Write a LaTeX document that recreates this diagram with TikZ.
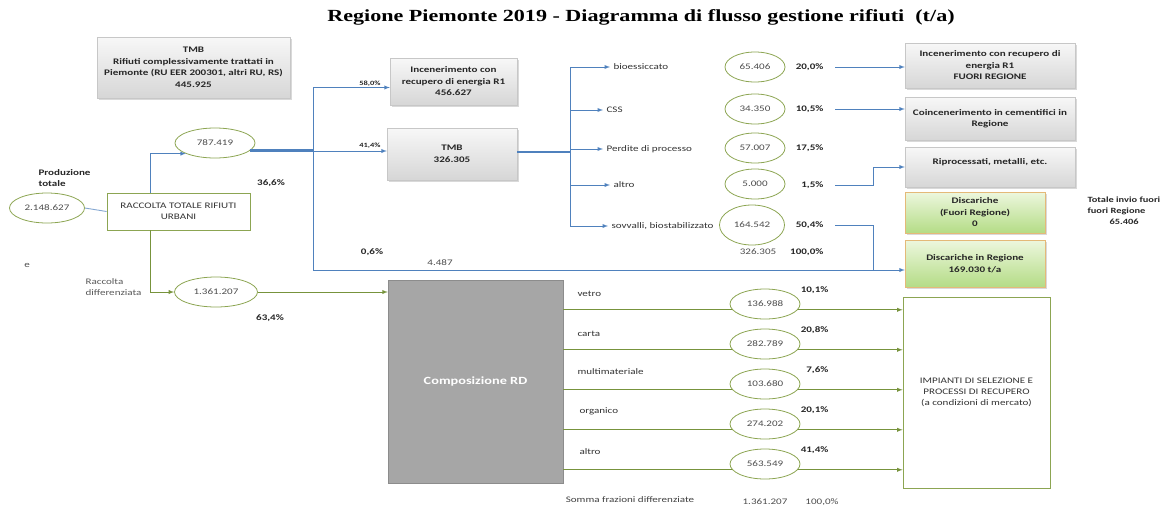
\documentclass[tikz,border=0pt]{standalone}
\usepackage{fontspec}
\setmainfont{Carlito}[FakeStretch=1.3]
\newfontfamily\titelfont{Liberation Serif}[FakeStretch=1.3]
\usetikzlibrary{positioning,shapes.geometric,shadows}
\definecolor{blaulinie}{HTML}{4F81BD}
\definecolor{gruenlinie}{HTML}{77933C}
\definecolor{gruenrand}{HTML}{8CA552}
\definecolor{rdgrau}{HTML}{A6A6A6}
\definecolor{gruenoben}{HTML}{EDF7DE}
\definecolor{gruenunten}{HTML}{B4DC86}
\definecolor{deponierand}{HTML}{E4B978}

\begin{document}
\begin{tikzpicture}
	[
	x=1pt, y=-1pt, font=\fontsize{8.5}{11}\selectfont, >=latex,
	%Voreinstellungen
	kasten/.style={draw=black!22, top color=black!3, bottom color=black!16, drop shadow={opacity=0.3, shadow xshift=1.5pt, shadow yshift=-1.5pt}, align=center, font=\fontsize{8.5}{11.5}\selectfont\bfseries, text=black!85},
	deponie/.style={kasten, draw=deponierand, top color=gruenoben, bottom color=gruenunten},
	wert/.style={ellipse, draw=gruenrand, line width=0.8pt, inner sep=0pt, minimum height=30pt, minimum width=60pt, text=black!70},
	prozent/.style={font=\fontsize{8.5}{11}\selectfont\bfseries, text=black!85},
	etikett/.style={anchor=west, text=black!80},
	fluss/.style={blaulinie, line width=0.9pt},
	rd/.style={gruenlinie, line width=0.9pt}
	]
	\useasboundingbox (0,0) rectangle (1162,507);
	
	%Titel
	\node (titel) at (641,17) {\titelfont\fontsize{17}{19}\selectfont\bfseries Regione Piemonte 2019 - Diagramma di flusso gestione rifiuti\ \ (t/a)};
	
	%TMB Piemonte
	\node[kasten, minimum width=193pt, minimum height=61pt] (tmbpie) at (193.5,67.5) {TMB\\Rifiuti complessivamente trattati in\\Piemonte (RU EER 200301, altri RU, RS)\\445.925};
	
	%Produzione und Raccolta
	\node[prozent, align=left, anchor=west] (prodtext) at (35,178) {Produzione\\totale};
	\node[wert, minimum width=75pt] (prod) at (47,208) {2.148.627};
	\node[draw=gruenrand, line width=0.8pt, minimum width=143pt, minimum height=37pt, align=center, text=black!80] (raccolta) at (178.5,211.5) {RACCOLTA TOTALE RIFIUTI\\URBANI};
	\node[wert, minimum width=80pt] (indiff) at (215,143) {787.419};
	\node[wert, minimum width=83pt] (diff) at (216,292) {1.361.207};
	\node[text=black!70] (rest) at (27,265) {e};
	\node[etikett, align=left, text=black!65] (rdtext) at (82,287) {Raccolta\\differenziata};
	\node[prozent] (p366) at (271,183) {36,6\%};
	\node[prozent] (p634) at (270,318) {63,4\%};
	
	\draw[blaulinie!70, line width=0.9pt] (prod.east) -- (raccolta.west);
	\draw[fluss,->] ([xshift=-28pt]raccolta.north) |- (indiff.200);
	\draw[rd,->] ([xshift=-28pt]raccolta.south) |- (diff.west);
	
	%Verteilung indifferenziato
	\coordinate (knoten) at (313,151);
	\coordinate (unten) at (313,270);
	\coordinate (sammel) at (873,270);
	\node[kasten, minimum width=127pt, minimum height=47pt] (incen) at (453.5,81.5) {Incenerimento con\\recupero di energia R1\\456.627};
	\node[kasten, minimum width=130pt, minimum height=52pt] (tmb) at (452,154) {TMB\\326.305};
	\node[prozent, font=\fontsize{6.5}{7}\selectfont\bfseries] (p580) at (370,84) {58,0\%};
	\node[prozent, font=\fontsize{6.5}{7}\selectfont\bfseries] (p414) at (370,146) {41,4\%};
	\node[prozent] (p06) at (372,252) {0,6\%};
	\node[text=black!70] (m4487) at (440,263) {4.487};
	
	\draw[fluss, line width=2.5pt] (indiff.-12) -- (indiff.-12 -| knoten);
	\draw[fluss,->] ([yshift=-6pt]incen.west -| knoten) -- ([yshift=-6pt]incen.west);
	\draw[fluss,->] (knoten) -- (knoten -| tmb.west);
	\draw[fluss] ([yshift=-6pt]incen.west -| knoten) -- (unten) -- (sammel);
	
	%Ausgang TMB
	\coordinate (verteiler) at (570,152);
	\node[etikett] (bio) at (610,67) {bioessiccato};
	\node[etikett] (css) at (603,110) {CSS};
	\node[etikett] (perd) at (603,149) {Perdite di processo};
	\node[etikett] (altro) at (610,185) {altro};
	\node[etikett] (sovv) at (608,226) {sovvalli, biostabilizzato};
	
	\draw[fluss, line width=2pt] (tmb.east |- verteiler) -- (verteiler);
	\draw[fluss] (verteiler |- bio) -- (verteiler |- sovv);
	\draw[fluss,->] (verteiler |- bio) -- (bio.west);
	\draw[fluss,->] (verteiler |- css) -- (css.west);
	\draw[fluss,->] (verteiler |- perd) -- (perd.west);
	\draw[fluss,->] (verteiler |- altro) -- (altro.west);
	\draw[fluss,->] (verteiler |- sovv) -- (sovv.west);
	
	%Mengen und Anteile
	\node[wert] (v1) at (755,67) {65.406};
	\node[wert] (v2) at (755,109) {34.350};
	\node[wert] (v3) at (755,148) {57.007};
	\node[wert] (v4) at (755,184) {5.000};
	\node[wert, minimum width=65pt, minimum height=40pt] (v5) at (752,225) {164.542};
	\node[prozent, anchor=east] (p1) at (827,67) {20,0\%};
	\node[prozent, anchor=east] (p2) at (827,109) {10,5\%};
	\node[prozent, anchor=east] (p3) at (827,148) {17,5\%};
	\node[prozent, anchor=east] (p4) at (827,185) {1,5\%};
	\node[prozent, anchor=east] (p5) at (827,225) {50,4\%};
	\node[text=black!70] (summe1) at (758,252) {326.305};
	\node[prozent, anchor=east] (summe1p) at (827,252) {100,0\%};
	
	%Ziele
	\node[kasten, minimum width=170pt, minimum height=45pt] (fuori) at (990,65.5) {Incenerimento con recupero di\\energia R1\\FUORI REGIONE};
	\node[kasten, minimum width=170pt, minimum height=43pt] (coinc) at (990,118.5) {Coincenerimento in cementifici in\\Regione};
	\node[kasten, minimum width=170pt, minimum height=40pt] (ripro) at (990,167) {Riprocessati, metalli, etc.\\ \mbox{}};
	\node[deponie, minimum width=140pt, minimum height=41pt] (discfuori) at (975,212.5) {Discariche\\(Fuori Regione)\\0};
	\node[deponie, minimum width=140pt, minimum height=47pt] (discreg) at (975,263.5) {Discariche in Regione\\169.030 t/a};
	\node[prozent, align=left, anchor=north west, font=\fontsize{8}{11}\selectfont\bfseries] (totale) at (1084,193) {Totale invio fuori\\fuori Regione\\\hspace*{22pt}65.406};
	
	\draw[fluss,->] ([xshift=8pt]p1.east) -- (p1 -| fuori.west);
	\draw[fluss,->] ([xshift=8pt]p2.east) -- (p2 -| coinc.west);
	\draw[fluss,->] ([xshift=8pt]p4.east) -| (ripro.west -| sammel) -- (ripro.west);
	\draw[fluss,->] ([xshift=8pt]p5.east) -| (sammel) -- (sammel -| discreg.west);
	
	%Raccolta differenziata
	\node[draw=black!45, fill=rdgrau, minimum width=175pt, minimum height=203pt, text=white, font=\fontsize{11}{13}\selectfont\bfseries] (comprd) at (475.5,381.5) {Composizione RD};
	\node[draw=gruenrand, line width=0.8pt, minimum width=147pt, minimum height=191pt, align=center, text=black!80] (impianti) at (976.5,392.5) {IMPIANTI DI SELEZIONE E\\PROCESSI DI RECUPERO\\(a condizioni di mercato)};
	\draw[rd,->] (diff.east) -- (diff.east -| comprd.west);
	
	\node[wert, minimum width=70pt] (rd1) at (765,304) {136.988};
	\node[wert, minimum width=70pt] (rd2) at (765,344) {282.789};
	\node[wert, minimum width=70pt] (rd3) at (765,384) {103.680};
	\node[wert, minimum width=70pt] (rd4) at (765,424) {274.202};
	\node[wert, minimum width=70pt] (rd5) at (765,464) {563.549};
	\node[etikett] (vetro) at (574,294) {vetro};
	\node[etikett] (carta) at (574,334) {carta};
	\node[etikett] (multi) at (574,372) {multimateriale};
	\node[etikett] (organico) at (576,411) {organico};
	\node[etikett] (altrord) at (576,452) {altro};
	\node[prozent, anchor=east] (q1) at (832,290) {10,1\%};
	\node[prozent, anchor=east] (q2) at (832,330) {20,8\%};
	\node[prozent, anchor=east] (q3) at (832,370) {7,6\%};
	\node[prozent, anchor=east] (q4) at (832,410) {20,1\%};
	\node[prozent, anchor=east] (q5) at (832,450) {41,4\%};
	
	\draw[rd] (comprd.east |- rd1.190) -- (rd1.190);
	\draw[rd] (comprd.east |- rd2.190) -- (rd2.190);
	\draw[rd] (comprd.east |- rd3.190) -- (rd3.190);
	\draw[rd] (comprd.east |- rd4.190) -- (rd4.190);
	\draw[rd] (comprd.east |- rd5.190) -- (rd5.190);
	\draw[rd,->] (rd1.-10) -- (rd1.-10 -| impianti.west);
	\draw[rd,->] (rd2.-10) -- (rd2.-10 -| impianti.west);
	\draw[rd,->] (rd3.-10) -- (rd3.-10 -| impianti.west);
	\draw[rd,->] (rd4.-10) -- (rd4.-10 -| impianti.west);
	\draw[rd,->] (rd5.-10) -- (rd5.-10 -| impianti.west);
	
	%Summe
	\node[text=black!75] (somma) at (630,500) {Somma frazioni differenziate};
	\node[text=black!70] (summe2) at (765,502) {1.361.207};
	\node[text=black!70] (summe2p) at (822,502) {100,0\%};
\end{tikzpicture}
\end{document}
